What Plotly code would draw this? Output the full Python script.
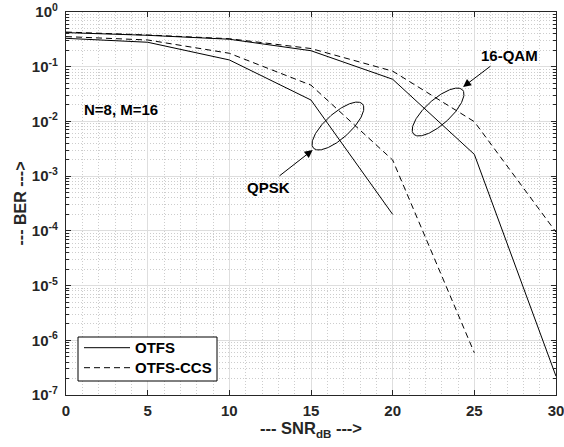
import numpy as np
import plotly.graph_objects as go

# ---- data ----
snr = [0, 5, 10, 15, 20, 25, 30]
qpsk_otfs = [0.33, 0.28, 0.133, 0.0246, 2.0e-4]
qpsk_ccs = [0.355, 0.308, 0.176, 0.046, 1.97e-3, 5.9e-7]
qam16_otfs = [0.42, 0.375, 0.318, 0.196, 0.059, 2.5e-3, 2.2e-7]
qam16_ccs = [0.43, 0.38, 0.325, 0.215, 0.083, 9.9e-3, 9.5e-5]

y_exps = [0, -1, -2, -3, -4, -5, -6, -7]
y_ticktext = ["10<sup>%d</sup>" % e for e in y_exps]
x_ticks = [0, 5, 10, 15, 20, 25, 30]
legend_names = ["OTFS", "OTFS-CCS"]

# layout geometry (page body margin is removed in the html, see write_html)
W, H = 564, 447
PL, PT, PR, PB = 66, 12, 556, 395          # plot box in page pixels
ml, mt = PL, PT
mr = W - PR
mb = H - PB
pw, ph = PR - PL, PB - PT
px_per_x = pw / 30.0
px_per_dec = ph / 7.0


def px(xpix):
    return (xpix - PL) / pw


def py(ypix):
    return (PB - ypix) / ph


FONT = "Liberation Sans, Arial, Helvetica, sans-serif"
BLK = "#000000"
DASH = "6px,4px"

fig = go.Figure()
line_kw = dict(color=BLK, width=1)
fig.add_trace(go.Scatter(x=snr[:len(qpsk_otfs)], y=qpsk_otfs, mode="lines",
                         line=dict(**line_kw), name=legend_names[0]))
fig.add_trace(go.Scatter(x=snr[:len(qpsk_ccs)], y=qpsk_ccs, mode="lines",
                         line=dict(dash=DASH, **line_kw), name=legend_names[1]))
fig.add_trace(go.Scatter(x=snr[:len(qam16_otfs)], y=qam16_otfs, mode="lines",
                         line=dict(**line_kw), name=legend_names[0]))
fig.add_trace(go.Scatter(x=snr[:len(qam16_ccs)], y=qam16_ccs, mode="lines",
                         line=dict(dash=DASH, **line_kw), name=legend_names[1]))


def ellipse(cx, clog, a_px, b_px, ang_deg):
    t = np.linspace(0, 2 * np.pi, 200)
    ang = np.deg2rad(ang_deg)
    u = a_px * np.cos(t)
    v = b_px * np.sin(t)
    dx = u * np.cos(ang) - v * np.sin(ang)   # pixels right
    dy = u * np.sin(ang) + v * np.cos(ang)   # pixels up
    xs = cx + dx / px_per_x
    ys = 10 ** (clog + dy / px_per_dec)
    return xs, ys


for (cx, clog) in [(16.65, -2.084), (22.78, -1.828)]:
    ex, ey = ellipse(cx, clog, 33, 12.5, 42)
    fig.add_trace(go.Scatter(x=ex, y=ey, mode="lines", line=dict(color=BLK, width=1),
                             hoverinfo="skip"))

afont = dict(family=FONT, size=15, color=BLK)
annotations = [
    dict(x=0.98, y=-1.773, text="<b>N=8, M=16</b>", showarrow=False,
         xanchor="left", yanchor="middle", font=afont),
    dict(x=12.37, y=-3.199, text="<b>QPSK</b>", showarrow=False,
         xanchor="center", yanchor="middle", font=afont),
    dict(x=27.18, y=-0.786, text="<b>16-QAM</b>", showarrow=False,
         xanchor="center", yanchor="middle", font=afont),
    dict(x=15.10, y=-2.522, ax=12.98, ay=-3.016, axref="x", ayref="y",
         text="", showarrow=True, arrowhead=2, arrowsize=1.6, arrowwidth=1,
         arrowcolor=BLK),
    dict(x=24.31, y=-1.371, ax=26.08, ay=-0.969, axref="x", ayref="y",
         text="", showarrow=True, arrowhead=2, arrowsize=1.6, arrowwidth=1,
         arrowcolor=BLK),
]

# custom MATLAB-style legend box
shapes = [
    dict(type="rect", xref="paper", yref="paper", x0=px(78), x1=px(217),
         y0=py(381), y1=py(337), line=dict(color=BLK, width=1),
         fillcolor="white", layer="above"),
]
for i, (name, dash) in enumerate(zip(legend_names, ["solid", DASH])):
    yc = 347.7 + 20 * i
    shapes.append(dict(type="line", xref="paper", yref="paper", x0=px(84), x1=px(130),
                       y0=py(yc), y1=py(yc), line=dict(color=BLK, width=1, dash=dash),
                       layer="above"))
    annotations.append(dict(xref="paper", yref="paper", x=px(133), y=py(yc),
                            text="<b>%s</b>" % name, showarrow=False, xanchor="left",
                            yanchor="middle", font=afont))

minor_y = [k * 10.0 ** e for e in range(-7, 0) for k in range(2, 10)]

tickfont = dict(family=FONT, size=15, color="#262626")
axis_common = dict(showline=True, linecolor="#262626", linewidth=1.2, mirror="allticks",
                   ticks="inside", ticklen=5, tickcolor="#262626", tickwidth=1,
                   showgrid=True, gridcolor="#dedede", gridwidth=1, zeroline=False,
                   tickfont=tickfont, automargin=False, ticklabeloverflow="allow")

fig.update_layout(
    width=W, height=H,
    margin=dict(l=ml, r=mr, t=mt, b=mb, autoexpand=False),
    paper_bgcolor="white", plot_bgcolor="white",
    font=dict(family=FONT, color=BLK),
    showlegend=False,
    shapes=shapes,
    annotations=annotations,
    xaxis=dict(range=[0, 30], tickmode="array", tickvals=x_ticks,
               ticktext=["<b>%d</b>" % v for v in x_ticks],
               ticklabelstandoff=2,
               minor=dict(dtick=1, tick0=0, showgrid=True, griddash="1px,2px",
                          gridcolor="#cdcdcd", gridwidth=1, ticks=""),
               title=dict(text="<b>--- SNR<sub>dB</sub> ---></b>",
                          font=dict(family=FONT, size=16.5, color="#262626"),
                          standoff=4),
               **axis_common),
    yaxis=dict(type="log", range=[-7, 0], tickmode="array",
               tickvals=[10.0 ** e for e in y_exps],
               ticktext=["<b>%s</b>" % t for t in y_ticktext],
               ticklabelstandoff=4,
               minor=dict(tickmode="array", tickvals=minor_y, showgrid=True,
                          griddash="1px,2px", gridcolor="#cdcdcd", gridwidth=1,
                          ticks="inside", ticklen=3, tickcolor="#262626"),
               title=dict(text="<b>--- BER ---></b>",
                          font=dict(family=FONT, size=16, color="#262626"),
                          standoff=1),
               **axis_common),
)

fig.write_html("out.html", config={"displayModeBar": False},
               post_script="document.body.style.margin='0px';")
